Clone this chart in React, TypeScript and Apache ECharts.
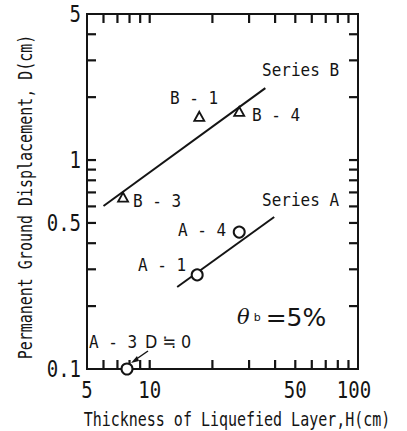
import React, { useEffect, useRef } from "react";
import * as echarts from "echarts";

// ---- data ----
const X_MIN = 5;
const X_MAX = 100;
const Y_MIN = 0.1;
const Y_MAX = 5;

const xMinorTicks = [6, 7, 8, 9, 10, 20, 30, 40, 50, 60, 70, 80, 90];
const yMinorTicks = [0.2, 0.3, 0.4, 0.5, 0.6, 0.7, 0.8, 0.9, 1, 2, 3, 4];
const xTickLabels = [5, 10, 50, 100];
const yTickLabels = [0.1, 0.5, 1, 5];

// Series B (triangles): B-3, B-1, B-4
const seriesBNames = ["B-3", "B-1", "B-4"];
const seriesBH = [7.45, 17.3, 26.9];
const seriesBD = [0.665, 1.62, 1.71];
// Series A (circles): A-1, A-4, A-3 (D ≒ 0, drawn on axis)
const seriesANames = ["A-1", "A-4", "A-3"];
const seriesAH = [16.9, 26.9, 7.78];
const seriesAD = [0.282, 0.452, 0.1];

// Fitted lines
const fitBH = [6.0, 35.9];
const fitBD = [0.603, 2.21];
const fitAH = [13.55, 39.6];
const fitAD = [0.247, 0.534];

const MONO = "'DejaVu Sans Mono', monospace";
const TICK = 9;
const TW = 2.2;
const INK = "#141414";

function textEl(text: string, x: number, y: number, opts: any = {}) {
  return {
    type: "text",
    x,
    y,
    scaleY: opts.scaleY ?? 1.15,
    rotation: opts.rotation ?? 0,
    z: 10,
    style: {
      text,
      x: 0,
      y: 0,
      fill: INK,
      fontFamily: opts.fontFamily ?? MONO,
      fontSize: opts.fontSize ?? 16,
      align: opts.align ?? "left",
      textAlign: opts.align ?? "left",
      verticalAlign: "middle",
      textVerticalAlign: "middle",
    },
  };
}

export default function App() {
  const ref = useRef<HTMLDivElement>(null);

  useEffect(() => {
    if (!ref.current) return;
    const chart = echarts.init(ref.current, undefined, { renderer: "svg" });

    const option: any = {
      animation: false,
      backgroundColor: "#fff",
      grid: {
        left: 87,
        right: 49,
        top: 14,
        bottom: 62,
        show: true,
        borderColor: INK,
        borderWidth: 2,
      },
      xAxis: {
        type: "log",
        min: X_MIN,
        max: X_MAX,
        axisLine: { show: false },
        axisTick: { show: false },
        axisLabel: { show: false },
        splitLine: { show: false },
      },
      yAxis: {
        type: "log",
        min: Y_MIN,
        max: Y_MAX,
        axisLine: { show: false },
        axisTick: { show: false },
        axisLabel: { show: false },
        splitLine: { show: false },
      },
      series: [
        // tick marks (bottom/top)
        {
          type: "custom",
          data: xMinorTicks.map((v) => [v, 1]),
          renderItem: (_p: any, api: any) => {
            const b = api.coord([api.value(0), Y_MIN]);
            const t = api.coord([api.value(0), Y_MAX]);
            return {
              type: "group",
              children: [
                { type: "rect", shape: { x: b[0] - TW / 2, y: b[1] - TICK, width: TW, height: TICK }, style: { fill: INK } },
                { type: "rect", shape: { x: t[0] - TW / 2, y: t[1], width: TW, height: TICK }, style: { fill: INK } },
              ],
            };
          },
        },
        // tick marks (left/right)
        {
          type: "custom",
          data: yMinorTicks.map((v) => [10, v]),
          renderItem: (_p: any, api: any) => {
            const l = api.coord([X_MIN, api.value(1)]);
            const r = api.coord([X_MAX, api.value(1)]);
            return {
              type: "group",
              children: [
                { type: "rect", shape: { x: l[0], y: l[1] - TW / 2, width: TICK, height: TW }, style: { fill: INK } },
                { type: "rect", shape: { x: r[0] - TICK, y: r[1] - TW / 2, width: TICK, height: TW }, style: { fill: INK } },
              ],
            };
          },
        },
        // x tick labels
        {
          type: "custom",
          data: xTickLabels.map((v) => [v, Y_MIN]),
          renderItem: (params: any, api: any) => {
            const p = api.coord([api.value(0), Y_MIN]);
            const dx = params.dataIndex === xTickLabels.length - 1 ? -4 : 0;
            return {
              type: "text",
              x: p[0] + dx,
              y: p[1] + 21,
              scaleY: 1.2,
              style: {
                text: String(xTickLabels[params.dataIndex]),
                fontFamily: MONO,
                fontSize: 19,
                fill: INK,
                align: "center",
                textAlign: "center",
                verticalAlign: "middle",
                textVerticalAlign: "middle",
              },
            };
          },
        },
        // y tick labels
        {
          type: "custom",
          data: yTickLabels.map((v) => [X_MIN, v]),
          renderItem: (params: any, api: any) => {
            const p = api.coord([X_MIN, api.value(1)]);
            return {
              type: "text",
              x: p[0] - 6,
              y: p[1],
              scaleY: 1.2,
              style: {
                text: String(yTickLabels[params.dataIndex]),
                fontFamily: MONO,
                fontSize: 19,
                fill: INK,
                align: "right",
                textAlign: "right",
                verticalAlign: "middle",
                textVerticalAlign: "middle",
              },
            };
          },
        },
        // fit lines
        {
          type: "line",
          name: "Series B fit",
          data: fitBH.map((h, i) => [h, fitBD[i]]),
          showSymbol: false,
          symbol: "none",
          lineStyle: { color: INK, width: 2 },
          z: 4,
        },
        {
          type: "line",
          name: "Series A fit",
          data: fitAH.map((h, i) => [h, fitAD[i]]),
          showSymbol: false,
          symbol: "none",
          lineStyle: { color: INK, width: 2 },
          z: 4,
        },
        // points
        {
          type: "scatter",
          name: "Series B",
          data: seriesBH.map((h, i) => ({ name: seriesBNames[i], value: [h, seriesBD[i]] })),
          symbol: "triangle",
          symbolSize: [10, 9],
          itemStyle: { color: "#fff", borderColor: INK, borderWidth: 1.8, opacity: 1 },
          z: 6,
        },
        {
          type: "scatter",
          name: "Series A",
          data: seriesAH.map((h, i) => ({ name: seriesANames[i], value: [h, seriesAD[i]] })),
          symbol: "circle",
          symbolSize: 11,
          itemStyle: { color: "#fff", borderColor: INK, borderWidth: 2, opacity: 1 },
          z: 6,
        },
      ],
      graphic: [
        // axis titles
        textEl("Thickness of Liquefied Layer,H(cm)", 237, 419, { fontSize: 15, scaleY: 1.35, align: "center" }),
        textEl("Permanent Ground Displacement, D(cm)", 25, 197, {
          fontSize: 15,
          scaleY: 1.3,
          align: "center",
          rotation: Math.PI / 2,
        }),
        // annotations
        textEl("Series B", 262, 70),
        textEl("B - 1", 170, 98),
        textEl("B - 4", 252, 115),
        textEl("B - 3", 133, 201),
        textEl("Series A", 262, 200),
        textEl("A - 4", 178, 230),
        textEl("A - 1", 138, 265),
        textEl("A - 3", 89, 342, { fontSize: 16 }),
        textEl("D ≒ 0", 145, 342, { fontSize: 16, fontFamily: "'DejaVu Sans', sans-serif" }),
        {
          type: "text",
          x: 237,
          y: 317,
          z: 10,
          style: {
            text: "{t|θ}{s|b}{e|=5%}",
            x: 0,
            y: 0,
            align: "left",
            textAlign: "left",
            verticalAlign: "middle",
            textVerticalAlign: "middle",
            fill: INK,
            rich: {
              t: { fontFamily: "'DejaVu Serif', serif", fontStyle: "italic", fontSize: 21, fill: INK },
              s: { fontFamily: "'DejaVu Sans', sans-serif", fontSize: 11, fill: INK, padding: [0, 5, 0, 4] },
              e: { fontFamily: "'DejaVu Sans', sans-serif", fontSize: 25, fill: INK },
            },
          },
        },
        // arrow for A-3
        {
          type: "line",
          z: 10,
          shape: { x1: 148, y1: 351, x2: 135, y2: 360 },
          style: { stroke: INK, lineWidth: 1.5 },
        },
        {
          type: "polygon",
          z: 10,
          shape: { points: [[131, 363], [137, 356], [139, 361]] },
          style: { fill: INK },
        },
      ],
    };

    chart.setOption(option);
    return () => chart.dispose();
  }, []);

  return (
    <div
      ref={ref}
      style={{ position: "fixed", left: 0, top: 0, width: 407, height: 431, background: "#fff" }}
    />
  );
}
